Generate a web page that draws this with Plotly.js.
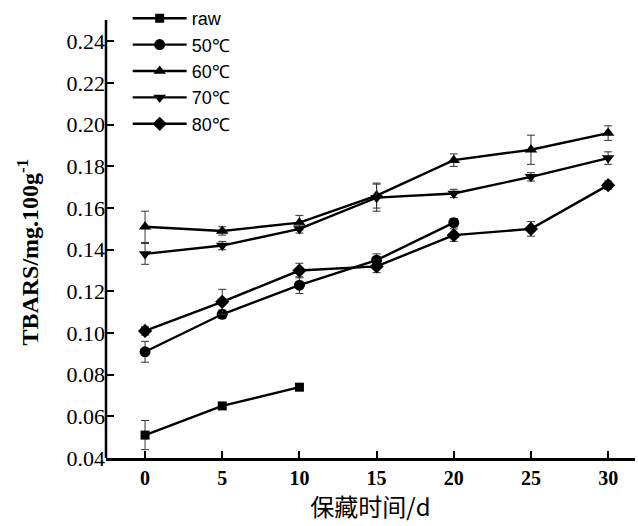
<!DOCTYPE html>
<html>
<head>
<meta charset="utf-8">
<script src="https://cdn.plot.ly/plotly-3.0.1.min.js"></script>
<style>html,body{margin:0;padding:0;background:#fff;}#chart{width:638px;height:526px;}</style>
</head>
<body>
<div id="chart"></div>
<script>
const days = [0, 5, 10, 15, 20, 25, 30];
const rawDays = [0, 5, 10];
const rawVals = [0.051, 0.065, 0.074];
const rawErr = [0.007, 0.001, 0.001];
const t50Days = [0, 5, 10, 15, 20];
const t50Vals = [0.091, 0.109, 0.123, 0.135, 0.153];
const t50Err = [0.005, 0.002, 0.004, 0.003, 0.002];
const t60Vals = [0.151, 0.149, 0.153, 0.166, 0.183, 0.188, 0.196];
const t60Err = [0.0075, 0.002, 0.0035, 0.006, 0.003, 0.007, 0.0035];
const t70Vals = [0.138, 0.142, 0.150, 0.165, 0.167, 0.175, 0.184];
const t70Err = [0.005, 0.002, 0.002, 0.0065, 0.002, 0.002, 0.003];
const t80Vals = [0.101, 0.115, 0.130, 0.132, 0.147, 0.150, 0.171];
const t80Err = [0.002, 0.006, 0.0035, 0.003, 0.003, 0.0035, 0.002];
const names = ['raw', '50℃', '60℃', '70℃', '80℃'];
const yTicks = [0.04, 0.06, 0.08, 0.10, 0.12, 0.14, 0.16, 0.18, 0.20, 0.22, 0.24];
const xTicks = [0, 5, 10, 15, 20, 25, 30];
const yAxisTop = 0.2503;
const yTitle = '<b>TBARS/mg.100g<sup>-1</sup></b>';
const xTitle = '保藏时间/d';

function tr(x, y, e, name, sym, size, grp) {
  return {
    x: x, y: y, name: name, type: 'scatter', mode: 'lines+markers',
    legendgroup: grp,
    line: {color: '#000', width: 2.4},
    marker: {symbol: sym, size: size, color: '#000'},
    error_y: {type: 'data', array: e, visible: true, color: '#333', thickness: 1, width: 4}
  };
}
const data = [
  tr(rawDays, rawVals, rawErr, names[0], 'square', 9, 'g1'),
  tr(t50Days, t50Vals, t50Err, names[1], 'circle', 11, 'g2'),
  tr(days, t60Vals, t60Err, names[2], 'triangle-up', 11, 'g3'),
  tr(days, t70Vals, t70Err, names[3], 'triangle-down', 11, 'g4'),
  tr(days, t80Vals, t80Err, names[4], 'diamond', 11, 'g5')
];
const layout = {
  width: 638, height: 526,
  margin: {l: 106, r: 3, t: 0, b: 68},
  paper_bgcolor: '#fff', plot_bgcolor: '#fff',
  showlegend: true,
  legend: {
    x: 0.041, y: 1.0, xanchor: 'left', yanchor: 'top',
    bgcolor: 'rgba(0,0,0,0)',
    font: {family: 'Liberation Sans, Arial, sans-serif', size: 18, color: '#000'},
    traceorder: 'grouped', tracegroupgap: 0,
    itemwidth: 54
  },
  xaxis: {
    range: [-2.53, 31.74],
    tickvals: xTicks, ticktext: xTicks.map(String),
    ticks: 'inside', ticklen: 7, tickwidth: 2, tickcolor: '#000',
    showline: true, linecolor: '#000', linewidth: 2.5,
    showgrid: false, zeroline: false,
    tickfont: {family: 'Liberation Serif, Times New Roman, serif', size: 20, color: '#000', weight: 'bold'},
    title: {text: xTitle, font: {family: 'Noto Sans CJK SC, sans-serif', size: 24, color: '#000'}, standoff: 10}
  },
  yaxis: {
    range: [0.04, 0.2599],
    tickvals: yTicks, ticktext: yTicks.map(v => v.toFixed(2)),
    ticks: 'inside', ticklen: 8, tickwidth: 2, tickcolor: '#000',
    showline: false,
    showgrid: false, zeroline: false,
    tickfont: {family: 'Liberation Serif, Times New Roman, serif', size: 22, color: '#000'}
  },
  annotations: [{
    text: yTitle, xref: 'paper', yref: 'paper',
    x: -0.148, y: 0.45, xanchor: 'center', yanchor: 'middle',
    textangle: -90, showarrow: false,
    font: {family: 'Liberation Serif, Times New Roman, serif', size: 24, color: '#000'}
  }],
  shapes: [{
    type: 'line', xref: 'paper', yref: 'y',
    x0: 0, x1: 0, y0: yTicks[0], y1: yAxisTop,
    line: {color: '#000', width: 2.5}
  }]
};
Plotly.newPlot('chart', data, layout, {displayModeBar: false, staticPlot: true});
</script>
</body>
</html>
